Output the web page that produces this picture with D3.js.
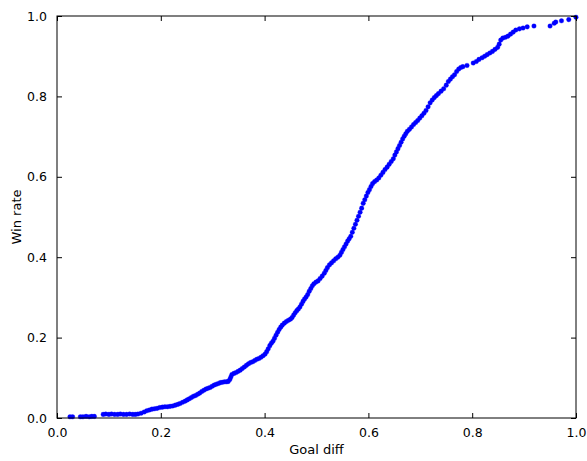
<!DOCTYPE html>
<html><head><meta charset="utf-8">
<script src="https://cdn.jsdelivr.net/npm/d3@7"></script>
<style>body{margin:0;background:#fff;} text{font-family:"DejaVu Sans",sans-serif;}</style>
</head><body><svg id="c" width="587" height="461"></svg>
<script>
const goalDiff = [0.025,0.030,0.045,0.050,0.056,0.062,0.067,0.072,
0.089,0.094,0.100,0.105,0.111,0.117,0.122,0.128,0.134,0.140,0.146,0.151,0.156,
0.162,0.168,0.173,0.178,0.183,0.188,0.193,0.198,0.203,0.208,0.213,0.218,0.223,0.228,0.233,0.237,0.242,0.247,0.251,0.255,0.259,0.263,0.267,0.271,0.275,0.279,0.283,0.287,0.291,0.295,0.299,0.303,0.307,0.311,0.315,0.319,0.323,0.327,0.330,0.333,0.335,0.337,0.341,0.345,0.349,0.353,0.357,0.361,0.365,0.369,0.373,0.377,0.381,0.385,0.389,0.393,0.397,0.401,0.404,0.407,0.410,0.413,0.416,0.419,0.422,0.425,0.428,0.431,0.434,0.438,0.442,0.446,0.450,0.453,0.456,0.459,0.462,0.465,0.468,0.471,0.474,0.477,0.480,0.483,0.486,0.489,0.492,0.495,0.499,0.503,0.507,0.511,0.515,0.518,0.521,0.525,0.529,0.533,0.537,0.541,0.545,0.548,0.551,0.554,0.557,0.560,0.563,0.566,0.569,0.572,0.575,0.578,0.581,0.584,0.587,0.590,0.593,0.596,0.599,0.602,0.605,0.608,0.612,0.616,0.620,0.624,0.628,0.632,0.636,0.640,0.644,0.648,0.651,0.654,0.657,0.660,0.663,0.666,0.669,0.672,0.675,0.679,0.683,0.687,0.691,0.695,0.699,0.703,0.707,0.711,0.715,0.719,0.723,0.727,0.731,0.735,0.740,0.745,0.750,0.754,0.758,0.762,0.766,0.770,0.774,0.778,0.782,0.790,0.802,0.808,0.813,0.819,0.824,0.829,0.834,0.839,0.844,0.849,0.852,0.855,0.859,0.864,0.869,0.874,0.879,0.884,0.891,0.898,0.906,0.919,0.950,0.958,0.961,0.972,0.986,1.000];
const winRate = [0.003,0.003,0.003,0.003,0.004,0.003,0.004,0.004,
0.009,0.010,0.009,0.010,0.009,0.009,0.010,0.009,0.009,0.010,0.009,0.009,0.010,
0.012,0.015,0.018,0.020,0.022,0.023,0.024,0.026,0.027,0.028,0.028,0.029,0.030,0.032,0.034,0.036,0.039,0.042,0.045,0.048,0.051,0.054,0.056,0.059,0.062,0.066,0.069,0.072,0.074,0.076,0.079,0.082,0.084,0.086,0.088,0.089,0.090,0.090,0.091,0.096,0.102,0.108,0.111,0.113,0.116,0.119,0.123,0.127,0.131,0.135,0.138,0.140,0.143,0.146,0.148,0.151,0.155,0.159,0.165,0.172,0.180,0.186,0.191,0.198,0.206,0.213,0.220,0.226,0.231,0.236,0.240,0.243,0.246,0.250,0.256,0.262,0.267,0.271,0.276,0.283,0.290,0.296,0.301,0.307,0.315,0.322,0.329,0.334,0.338,0.341,0.347,0.353,0.360,0.367,0.374,0.381,0.386,0.391,0.396,0.400,0.405,0.412,0.419,0.426,0.433,0.440,0.446,0.452,0.462,0.472,0.482,0.492,0.502,0.512,0.522,0.534,0.543,0.552,0.561,0.568,0.576,0.583,0.588,0.592,0.597,0.604,0.611,0.618,0.624,0.631,0.638,0.645,0.654,0.662,0.670,0.678,0.686,0.694,0.701,0.707,0.713,0.718,0.724,0.730,0.735,0.740,0.746,0.752,0.758,0.765,0.774,0.784,0.791,0.797,0.802,0.807,0.813,0.819,0.828,0.837,0.843,0.849,0.854,0.862,0.868,0.872,0.874,0.877,0.883,0.887,0.892,0.896,0.900,0.904,0.908,0.912,0.917,0.922,0.930,0.940,0.945,0.947,0.950,0.955,0.960,0.965,0.968,0.970,0.973,0.975,0.975,0.982,0.985,0.988,0.991,0.997];
const tickValues = [0.0,0.2,0.4,0.6,0.8,1.0];
const xLabel = "Goal diff", yLabel = "Win rate";

const svg = d3.select("#c");
const L=57,R=576,T=16,B=418;
const x = d3.scaleLinear().domain([0,1]).range([L,R]);
const y = d3.scaleLinear().domain([0,1]).range([B,T]);
const fmt = d3.format(".1f");

const data = goalDiff.map((g,i)=>({g, w:winRate[i]}));
svg.append("g").selectAll("circle").data(data).join("circle")
  .attr("cx",d=>x(d.g)).attr("cy",d=>y(d.w)).attr("r",2.3)
  .attr("fill","#0000ff").attr("stroke","#0000ff").attr("stroke-width",0.3);

function styleAxis(g, labels){
  g.select(".domain").remove();
  g.selectAll(".tick line").attr("stroke","#000").attr("stroke-width",1);
  g.selectAll(".tick text").attr("fill", labels ? "#000" : "none")
    .style("font-size","12.5px").style("font-family","DejaVu Sans");
}
svg.append("g").attr("transform",`translate(0,${B})`)
  .call(d3.axisBottom(x).tickValues(tickValues).tickFormat(fmt).tickSizeInner(-5).tickPadding(10))
  .call(g=>styleAxis(g,true));
svg.append("g").attr("transform",`translate(0,${T})`)
  .call(d3.axisTop(x).tickValues(tickValues).tickFormat("").tickSizeInner(-5))
  .call(g=>styleAxis(g,false));
svg.append("g").attr("transform",`translate(${L},0)`)
  .call(d3.axisLeft(y).tickValues(tickValues).tickFormat(fmt).tickSizeInner(-5).tickPadding(10))
  .call(g=>styleAxis(g,true));
svg.append("g").attr("transform",`translate(${R},0)`)
  .call(d3.axisRight(y).tickValues(tickValues).tickFormat("").tickSizeInner(-5))
  .call(g=>styleAxis(g,false));

svg.append("rect").attr("x",L).attr("y",T).attr("width",R-L).attr("height",B-T)
  .attr("fill","none").attr("stroke","#000").attr("stroke-width",1);

svg.append("text").attr("x",(L+R)/2).attr("y",454).attr("text-anchor","middle")
  .style("font-size","13px").text(xLabel);
svg.append("text").attr("transform",`translate(21,${(T+B)/2}) rotate(-90)`).attr("text-anchor","middle")
  .style("font-size","13px").text(yLabel);
</script></body></html>
